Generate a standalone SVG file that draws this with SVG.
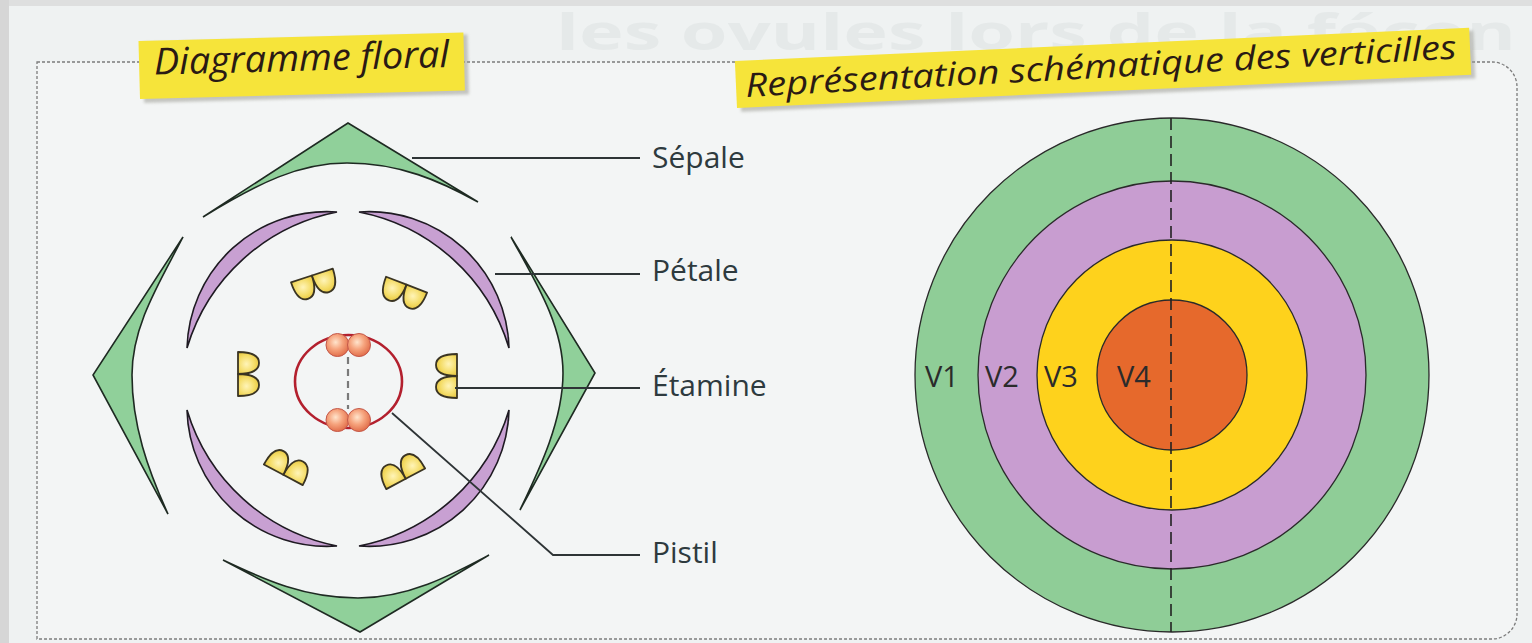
<svg xmlns="http://www.w3.org/2000/svg" xmlns:xlink="http://www.w3.org/1999/xlink" width="1532" height="643" viewBox="0 0 1532 643">
  <style>
    .sepale { fill: #90d09a; stroke: #1e2a22; stroke-width: 1.6; stroke-linejoin: miter; }
    .petale { fill: #c8a0d2; stroke: #1e1a22; stroke-width: 1.6; }
    .lobe { fill: url(#gradLobe); stroke: #3a3422; stroke-width: 1.8; stroke-linejoin: round; }
    .ovule { fill: url(#gradOvule); stroke: #c4584a; stroke-width: 1; }
    .leader { fill: none; stroke: #2e3436; stroke-width: 1.8; }
    .label { font-family: "Open Sans", "Noto Sans", sans-serif; font-size: 30px; fill: #2e3a3e; }
    .vlabel { font-family: "Open Sans", "Noto Sans", sans-serif; font-size: 29px; fill: #2b2b2b; }
    .titre { font-family: "Open Sans", "Noto Sans", sans-serif; font-style: italic; fill: #2a1a14; }
    .bandeau { fill: #f6e43a; }
    .ombre { fill: #9c9c94; opacity: 0.55; filter: url(#flou); }
    .anneau { stroke: #2a2a2a; stroke-width: 1.3; }
  </style>
  <defs>
    <radialGradient id="gradLobe" cx="0.45" cy="0.4" r="0.65">
      <stop offset="0" stop-color="#fff4b8"/>
      <stop offset="0.6" stop-color="#f4dc66"/>
      <stop offset="1" stop-color="#e6c43c"/>
    </radialGradient>
    <radialGradient id="gradOvule" cx="0.42" cy="0.38" r="0.62">
      <stop offset="0" stop-color="#ffe4cc"/>
      <stop offset="0.5" stop-color="#f6a47e"/>
      <stop offset="1" stop-color="#e2704c"/>
    </radialGradient>
    <filter id="flou" x="-5%" y="-20%" width="110%" height="140%">
      <feGaussianBlur stdDeviation="1.6"/>
    </filter>
    <!-- one anther: two dome-shaped lobes, flat side outward (local -y) -->
    <g id="anthere">
      <path class="lobe" d="M-22,-10 L0,-10 C0,4 -4,11 -11,11 C-18,11 -22,4 -22,-10 Z"/>
      <path class="lobe" d="M0,-10 L22,-10 C22,4 18,11 11,11 C4,11 0,4 0,-10 Z"/>
    </g>
    <!-- crescent petal, upper-left quadrant, relative to flower centre -->
    <path id="petaleBase" class="petale" d="M-161,-31 A140,140 0 0 1 -11,-167 A196,196 0 0 0 -161,-31 Z"/>
  </defs>

  <!-- page background -->
  <rect x="0" y="0" width="1532" height="643" fill="#eff2f2"/>
  <rect x="0" y="0" width="1532" height="6" fill="#dedfdf"/>
  <rect x="0" y="0" width="9" height="643" fill="#d6d6d6"/>
  <text x="556" y="50" font-family="Open Sans, Noto Sans, sans-serif" font-size="50" font-weight="bold" fill="#e5e9e9" textLength="960" lengthAdjust="spacingAndGlyphs">les ovules lors de la fécon</text>

  <!-- frame -->
  <path d="M37,62 L1492,62 A25,25 0 0 1 1517,87 L1517,614 A25,25 0 0 1 1492,639 L37,639 Z" fill="#f3f5f5" stroke="#7c7c7c" stroke-width="1.3" stroke-dasharray="3 2"/>

  <!-- floral diagram -->
  <g id="sepales">
    <path class="sepale" d="M203,217 L348,123 L478,202 C440,181 400,163 347,163 C300,163 260,182 203,217 Z"/>
    <path class="sepale" d="M223,560 L360,632 L489,555 C455,573 410,598 358,598 C305,598 265,580 223,560 Z"/>
    <path class="sepale" d="M183,237 L93,375 L168,514 C148,470 132,425 132,375 C132,325 160,282 183,237 Z"/>
    <path class="sepale" d="M511,237 L595,373 L520,510 C540,468 563,420 563,373 C563,325 535,281 511,237 Z"/>
  </g>

  <g id="petales" transform="translate(348,379)">
    <use xlink:href="#petaleBase" href="#petaleBase"/>
    <use xlink:href="#petaleBase" href="#petaleBase" transform="scale(-1,1)"/>
    <use xlink:href="#petaleBase" href="#petaleBase" transform="scale(1,-1)"/>
    <use xlink:href="#petaleBase" href="#petaleBase" transform="scale(-1,-1)"/>
  </g>

  <g id="etamines">
    <use xlink:href="#anthere" href="#anthere" transform="translate(315,285) rotate(-18)"/>
    <use xlink:href="#anthere" href="#anthere" transform="translate(403,294) rotate(21)"/>
    <use xlink:href="#anthere" href="#anthere" transform="translate(248,374) rotate(-90)"/>
    <use xlink:href="#anthere" href="#anthere" transform="translate(447,376) rotate(90)"/>
    <use xlink:href="#anthere" href="#anthere" transform="translate(288,466) rotate(208)"/>
    <use xlink:href="#anthere" href="#anthere" transform="translate(401,470) rotate(152)"/>
  </g>

  <g id="pistil">
    <ellipse cx="348.5" cy="381.5" rx="53.5" ry="46.5" fill="none" stroke="#b3202e" stroke-width="2.6"/>
    <line x1="348" y1="357" x2="348" y2="409" stroke="#7a7a7a" stroke-width="2.2" stroke-dasharray="7 5"/>
    <circle class="ovule" cx="337.5" cy="345" r="11.5"/>
    <circle class="ovule" cx="359" cy="345" r="11.5"/>
    <circle class="ovule" cx="337.5" cy="420" r="11.5"/>
    <circle class="ovule" cx="359" cy="420" r="11.5"/>
  </g>

  <g id="connecteurs">
    <path class="leader" d="M412,158 L640,158"/>
    <path class="leader" d="M495,274 L640,274"/>
    <path class="leader" d="M455,388 L640,388"/>
    <path class="leader" d="M392,413 L553,555 L640,555"/>
  </g>

  <g id="etiquettes">
    <text class="label" x="652" y="168">Sépale</text>
    <text class="label" x="652" y="281">Pétale</text>
    <text class="label" x="652" y="396">Étamine</text>
    <text class="label" x="652" y="563">Pistil</text>
  </g>

  <!-- whorls -->
  <g id="verticilles">
    <circle class="anneau" cx="1172" cy="375" r="257" fill="#8fcd97"/>
    <circle class="anneau" cx="1172" cy="375" r="194" fill="#c89dd0"/>
    <circle class="anneau" cx="1172" cy="375" r="135" fill="#fed21c"/>
    <circle class="anneau" cx="1172" cy="375" r="75" fill="#e6692c"/>
    <line x1="1171" y1="118" x2="1171" y2="632" stroke="#222" stroke-width="1.6" stroke-dasharray="12 6"/>
    <text class="vlabel" x="925" y="387">V1</text>
    <text class="vlabel" x="985" y="387">V2</text>
    <text class="vlabel" x="1044" y="387">V3</text>
    <text class="vlabel" x="1117" y="387">V4</text>
  </g>

  <!-- headings -->
  <g id="titre-diagramme" transform="translate(140,99) rotate(-1.5)">
    <rect class="ombre" x="4" y="-56" width="325" height="60"/>
    <rect class="bandeau" x="0" y="-58" width="325" height="58"/>
    <text class="titre" x="15" y="-24" font-size="37" textLength="295" lengthAdjust="spacingAndGlyphs">Diagramme floral</text>
  </g>

  <g id="titre-verticilles">
    <g transform="translate(737,108) rotate(-2.6)">
      <rect class="ombre" x="4" y="-44" width="735" height="48"/>
      <rect class="bandeau" x="0" y="-47" width="735" height="47"/>
    </g>
    <text class="titre" transform="translate(746,97) rotate(-3.1)" x="0" y="0" font-size="33" textLength="712" lengthAdjust="spacingAndGlyphs">Représentation schématique des verticilles</text>
  </g>
</svg>
